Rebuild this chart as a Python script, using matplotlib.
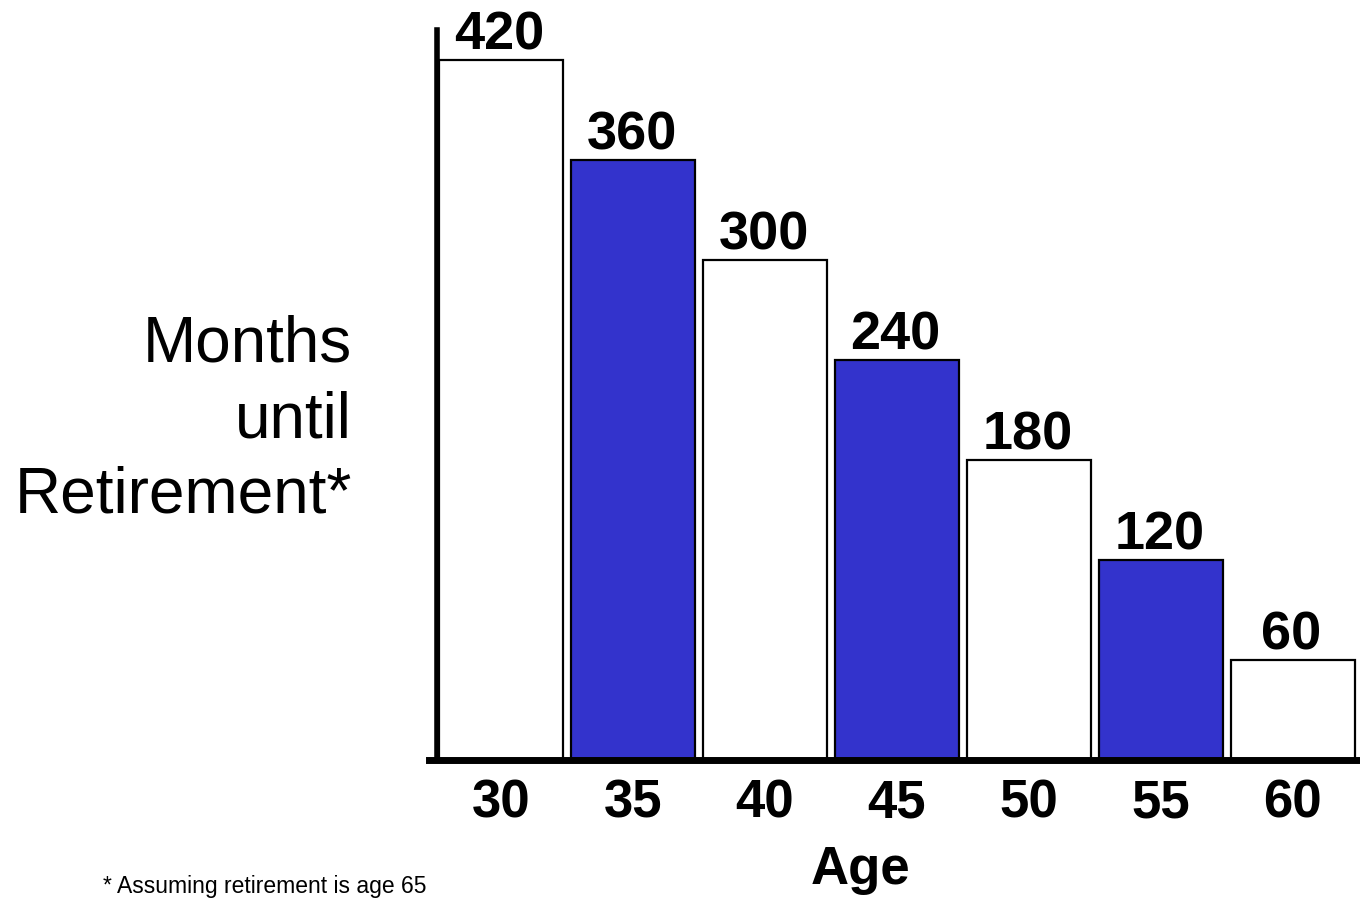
import matplotlib
matplotlib.use("Agg")
import matplotlib.pyplot as plt

ages = ["30", "35", "40", "45", "50", "55", "60"]
months = [420, 360, 300, 240, 180, 120, 60]
fills = ["white", "#3333CC", "white", "#3333CC", "white", "#3333CC", "white"]

plt.rcParams["font.family"] = ["Liberation Sans", "DejaVu Sans"]

fig = plt.figure(figsize=(13.6, 9), dpi=100)
ax = fig.add_axes([437 / 1360, 1 - 760 / 900, 1 - 437 / 1360, (760 - 30) / 900])

x = list(range(len(ages)))
bars = ax.bar(x, months, width=0.94, color=fills, edgecolor="black", linewidth=1.6)

for xi, v in zip(x, months):
    ax.annotate(str(v), (xi, v), xytext=(-1, 0), textcoords="offset points",
                ha="center", va="bottom", fontsize=39, fontweight="bold")

ax.set_xlim(-0.485, 6.51)
ax.set_ylim(0, 438)
ax.set_xticks(x)
ax.set_xticklabels(ages, fontsize=38, fontweight="bold")
ax.tick_params(axis="x", length=0, pad=13)
ax.set_yticks([])

for s in ("top", "right"):
    ax.spines[s].set_visible(False)
ax.spines["left"].set_linewidth(4)
ax.spines["bottom"].set_linewidth(5)
ax.spines["bottom"].set_bounds(-0.545, 6.51)

fig.text(860 / 1360, 1 - 870 / 900, "Age", ha="center", va="center",
         fontsize=38, fontweight="bold")
fig.text(352 / 1360, 1 - 420 / 900, "Months\nuntil\nRetirement*", ha="right",
         va="center", fontsize=46, linespacing=1.32)
fig.text(103 / 1360, 2 / 900, "* Assuming retirement is age 65",
         ha="left", va="bottom", fontsize=16.5)

fig.savefig("out.png", dpi=100)
